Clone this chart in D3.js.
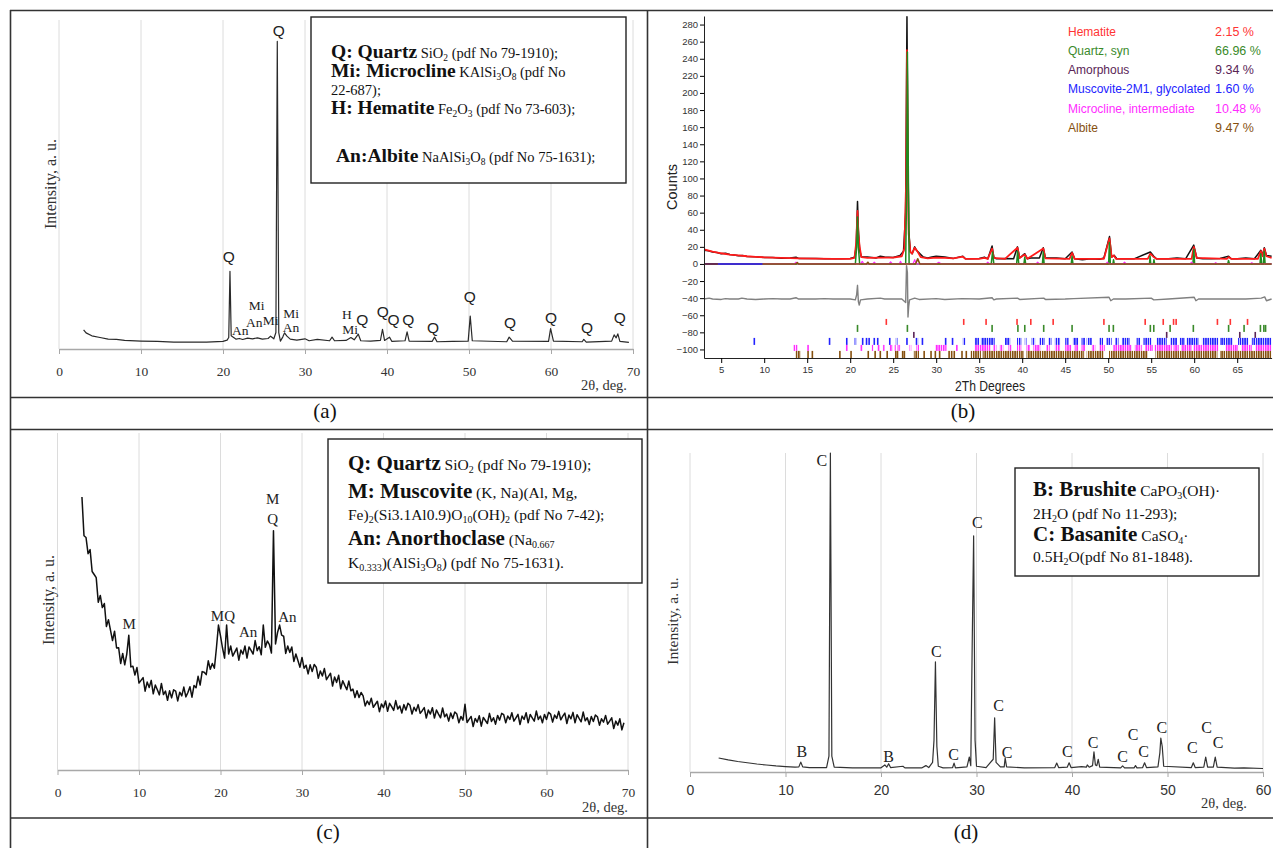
<!DOCTYPE html>
<html>
<head>
<meta charset="utf-8">
<script src="https://cdn.jsdelivr.net/npm/d3@7"></script>
<style>
  body { margin: 0; background: #fff; }
  svg { display: block; }
</style>
</head>
<body>
<script>
// ---------- panel (a): raw clay, intensity in arbitrary units (0-100) ----------
let aPattern = [
  [3, 5.8], [3.3, 4.9], [4, 4.0], [5, 3.5], [6, 3.0], [7, 2.9], [8, 2.6], [10, 2.4], [12, 2.3],
  [14, 2.1], [16, 2.1], [18, 2.1], [20, 2.3], [20.5, 2.7], [20.7, 3.5], [20.85, 23.6], [21.0, 4],
  [21.3, 3.5], [21.6, 3], [22, 3.2], [22.4, 2.9], [23, 3.3], [23.6, 3.1], [24.2, 3.4], [24.8, 3.0],
  [25.5, 3.2], [25.8, 3.9], [26.2, 3.1], [26.45, 5], [26.62, 93.5], [26.8, 5], [27.0, 2.4],
  [27.3, 3.7], [27.5, 4.9], [27.8, 3.9], [28.2, 3.0], [29, 2.7], [30, 3.1], [30.5, 2.5], [31.5, 2.9],
  [33, 2.5], [33.3, 3.6], [33.6, 2.5], [35, 2.6], [35.6, 3.5], [36.0, 2.8], [36.5, 4.5], [36.8, 2.5],
  [38, 2.4], [39.2, 2.6], [39.45, 6.0], [39.7, 2.6], [40.3, 3.6], [40.6, 2.3], [42.2, 2.5],
  [42.45, 5.2], [42.7, 2.4], [45.5, 2.3], [45.8, 3.6], [46.1, 2.2], [48, 2.3], [49.9, 2.4],
  [50.15, 10.0], [50.4, 2.5], [54.6, 2.2], [54.9, 3.6], [55.3, 2.4], [59.7, 2.3], [59.95, 6.2],
  [60.3, 2.4], [63.8, 2.2], [64.0, 2.9], [64.3, 2.1], [67.4, 2.4], [67.7, 4.3], [67.95, 3.4],
  [68.15, 4.6], [68.4, 2.3], [69.5, 2.0]
];
// [text, 2theta, intensity, font]
let aLabels = [
  ["Q", 26.8, 95.2, "sans"], ["Q", 20.7, 26.4, "sans"], ["An", 22.1, 4.3, "serif"],
  ["An", 23.8, 6.8, "serif"], ["Mi", 24.1, 11.8, "serif"], ["Mi", 25.8, 7.3, "serif"],
  ["Mi", 28.3, 9.3, "serif"], ["An", 28.3, 5.2, "serif"], ["H", 35.1, 9.0, "serif"],
  ["Mi", 35.5, 4.7, "serif"], ["Q", 37.0, 7.3, "sans"], ["Q", 39.5, 9.6, "sans"],
  ["Q", 40.8, 7.2, "sans"], ["Q", 42.6, 7.3, "sans"], ["Q", 45.6, 4.9, "sans"],
  ["Q", 50.1, 14.3, "sans"], ["Q", 55.0, 6.4, "sans"], ["Q", 60.0, 7.9, "sans"],
  ["Q", 64.4, 4.9, "sans"], ["Q", 68.4, 7.9, "sans"]
];
let aLegend = [
  "**Q: Quartz** SiO_2_ (pdf No 79-1910);",
  "**Mi: Microcline** KAlSi_3_O_8_ (pdf No",
  "22-687);",
  "**H: Hematite** Fe_2_O_3_ (pdf No 73-603);",
  "**An:Albite** NaAlSi_3_O_8_ (pdf No 75-1631);"
];

// ---------- panel (b): Rietveld refinement, counts ----------
let bObserved = [
  [3, 16], [3.5, 15.5], [4, 14], [4.5, 13.5], [5, 12], [5.5, 12.5], [6, 11], [6.5, 10.5], [7, 9.5],
  [7.5, 9.8], [8, 8.7], [9, 8.5], [10, 7.5], [11, 7.6], [12, 6.8], [13, 7], [13.7, 7.8], [14, 6.5],
  [15, 6.3], [16, 6.5], [17, 6], [18, 6.2], [19, 6], [20, 6.5], [20.5, 8], [20.7, 20], [20.85, 73],
  [20.95, 40], [21.1, 16], [21.3, 8], [22, 8], [23, 7], [23.5, 9], [24, 8], [25, 7.5], [25.8, 10],
  [26.2, 15], [26.45, 60], [26.6, 289], [26.7, 140], [26.8, 40], [27, 14], [27.2, 12], [27.5, 20],
  [27.7, 16], [28, 13], [28.5, 8], [29, 7], [29.5, 8], [30, 9], [31, 8], [32, 6.5], [33.1, 9],
  [33.4, 6], [34, 6], [35, 6.5], [35.6, 8], [36, 6], [36.5, 21], [36.7, 8], [37, 6], [38, 6.5],
  [39, 6], [39.45, 20], [39.7, 7], [40.3, 12], [40.6, 6], [41, 7], [42, 7], [42.45, 19], [42.7, 7],
  [44, 7], [45, 6], [45.8, 14], [46.1, 6], [47, 5], [48, 6], [49, 5.5], [49.5, 7], [50.15, 32],
  [50.4, 8], [50.7, 10], [51, 6], [53, 6], [54.9, 14], [55.3, 9], [55.6, 6], [57, 6], [58, 7],
  [59, 6], [59.95, 22], [60.3, 7], [61, 6], [62, 6], [63, 6.5], [64, 9], [64.3, 6], [65, 6],
  [66, 7], [67, 6], [67.75, 16], [67.95, 10], [68.15, 19], [68.4, 10], [69, 9]
];
let bCalculated = [
  [3, 17], [4, 14.5], [5, 12.5], [6, 11], [7, 10], [8, 9], [9, 8.3], [10, 7.8], [12, 7], [14, 6.5],
  [16, 6.2], [18, 6], [20, 6], [20.5, 7], [20.7, 25], [20.85, 62], [20.95, 35], [21.1, 20],
  [21.3, 8], [22, 7], [24, 7.5], [25, 7.5], [26, 9], [26.3, 18], [26.5, 95], [26.6, 250],
  [26.7, 125], [26.8, 35], [27, 14], [27.2, 12], [27.5, 19], [27.8, 15], [28.2, 8], [29, 6.5],
  [30, 7.5], [31, 7], [32, 6.5], [33.1, 8.5], [33.4, 6], [35, 6], [35.6, 7], [36, 6], [36.5, 18],
  [36.7, 7], [38, 6], [39.45, 19], [39.7, 7], [40.3, 11], [40.6, 6], [42.45, 18], [42.7, 6.5],
  [45.5, 6], [45.8, 13], [46.1, 6], [49.5, 6], [50.15, 30], [50.4, 8], [50.65, 10], [50.9, 6],
  [54.6, 6], [54.9, 12], [55.3, 8], [55.6, 6], [59.7, 6], [59.95, 20], [60.3, 7], [63.8, 6],
  [64.0, 8], [64.3, 6], [67.4, 6], [67.75, 15], [67.95, 9], [68.15, 18], [68.4, 9], [69, 7]
];
let bQuartz = [
  [3, 0], [20.6, 0], [20.75, 20], [20.85, 55], [20.95, 20], [21.1, 0], [26.45, 0], [26.55, 80],
  [26.65, 248], [26.75, 120], [26.85, 0], [36.4, 0], [36.55, 14], [36.7, 0], [39.35, 0],
  [39.47, 15], [39.6, 0], [40.2, 0], [40.3, 8], [40.4, 0], [42.35, 0], [42.45, 14], [42.55, 0],
  [45.7, 0], [45.8, 9], [45.9, 0], [50.05, 0], [50.14, 25], [50.25, 0], [50.55, 0], [50.62, 5],
  [50.7, 0], [54.8, 0], [54.87, 9], [54.95, 0], [55.25, 0], [55.32, 5], [55.4, 0], [59.85, 0],
  [59.96, 17], [60.05, 0], [63.9, 0], [63.99, 4], [64.1, 0], [67.65, 0], [67.74, 12], [67.85, 0],
  [68.05, 0], [68.14, 15], [68.25, 0], [69, 0]
];
let bMicrocline = [
  [3, 0], [13.5, 0], [13.7, 2], [13.9, 0], [21.2, 0], [21.4, 3], [21.6, 0], [22.6, 0], [22.8, 2],
  [23, 0], [24.5, 0], [24.7, 2.5], [24.9, 0], [25.7, 0], [25.85, 3], [26, 0], [27.3, 0], [27.5, 5],
  [27.7, 0], [30, 0], [30.3, 2], [30.6, 0], [35.8, 0], [36, 2], [36.2, 0], [41.6, 0], [41.8, 2],
  [42, 0], [49.7, 0], [49.9, 2], [50.1, 0], [51.7, 0], [51.9, 2], [52.1, 0], [59.5, 0], [59.7, 2],
  [59.9, 0], [62.3, 0], [62.5, 1.5], [62.7, 0], [66.5, 0], [66.7, 1.5], [66.9, 0], [69, 0]
];
let bAlbite = [
  [3, 0], [13.7, 0], [13.85, 1.5], [14, 0], [21.9, 0], [22.05, 2], [22.2, 0], [27.6, 0],
  [27.85, 6], [28.1, 0], [69, 0]
];
let bMuscovite = [[4.6, 0], [9.8, 0]];
let bAmorphous = [[3, 0], [4.6, 0]];
let bDifference = [
  [3, -41], [3.6, -40], [4, -41], [5, -41.5], [5.5, -40.5], [6, -41], [7, -41], [7.4, -40], [8, -41],
  [9, -41.5], [10, -41], [11, -40.5], [12, -41], [13, -41], [13.7, -39.5], [14, -41], [16, -41],
  [17, -40.5], [18, -41], [20, -41], [20.6, -42], [20.75, -36], [20.85, -25], [20.95, -44],
  [21.05, -48], [21.2, -42], [22, -41], [23.5, -40], [24, -41], [26, -41], [26.45, -45],
  [26.55, -2], [26.65, -10], [26.72, -62], [26.8, -50], [26.9, -42], [27.5, -40], [28, -41.5],
  [30, -40.5], [31, -41.5], [33, -40.5], [35, -41], [36.5, -39.5], [36.7, -42], [37, -41],
  [39.45, -40], [39.7, -41.5], [42.5, -40], [42.7, -41.5], [45, -41], [46, -40.5], [50.1, -39],
  [50.3, -43], [50.6, -41], [52, -41], [55, -40], [55.3, -42], [57, -41], [60, -39], [60.2, -43],
  [60.5, -41], [63, -41], [66, -41], [67.8, -40], [68.2, -38.5], [68.4, -43], [69, -41]
];
// reflection markers: single positions or dense [from, to] groups
let hematiteTicks = [24.2, 33.2, 35.8, 39.4, 41.0, 43.6, 49.5, 54.3, 56.4, 57.6, 57.9, 62.7, 64.2, 66.2];
let quartzTicks = [20.85, 26.65, 36.5, 39.5, 40.3, 42.5, 45.8, 50.1, 50.6, 54.9, 55.3, 57.2, 59.9,
  64.0, 65.8, 67.7, 68.1, 68.3];
let amorphousTicks = [27.4, 56.8, 65.3, 67.1];
let muscoviteTicks = [8.85, 17.6, 19.6, [20.5, 20.7], 21.45, 21.9, 22.2, 22.8, 23.2, 24.6, [25.3, 25.5],
  26.6, [27.6, 27.9], 28.4, 31.1, 31.9, [33.1, 33.4], [34.5, 35.0], [35.2, 36.8], [38.0, 38.6],
  [39.4, 39.9], [40.3, 40.5], [41.1, 41.5], [42.0, 42.6], [43.0, 43.4], [43.8, 44.4], [45.0, 45.4],
  [45.9, 46.5], [46.9, 47.3], [47.5, 48.1], [49.0, 49.4], [49.8, 50.4], [50.8, 51.2], [51.6, 52.5],
  [53.3, 53.7], [54.1, 55.0], [55.6, 56.8], [57.2, 58.0], [58.3, 58.9], [59.1, 60.5], [60.9, 62.8],
  [63.0, 64.5], [65.1, 66.3], [66.7, 69.0]];
let microclineTicks = [[13.4, 13.9], 15.1, 19.6, 21.3, [22.5, 22.7], 23.3, [23.8, 24.0], [24.6, 24.9],
  [25.1, 25.3], [25.5, 25.8], [26.9, 27.1], [27.7, 28.0], [29.9, 31.2], 32.4, [34.5, 36.3],
  [36.6, 37.0], [37.4, 37.8], [38.4, 38.8], [39.4, 39.9], [40.5, 40.9], [41.3, 42.1], [42.8, 43.2],
  [43.8, 44.4], [45.0, 45.7], [46.1, 46.5], [46.9, 47.3], [48.1, 48.5], [49.0, 49.6], [50.6, 52.7],
  [53.1, 53.9], [54.3, 55.2], [55.4, 57.4], [57.6, 58.2], [58.5, 59.7], [59.9, 62.8], [63.6, 65.1],
  [65.5, 66.7], [67.1, 69.0]];
let albiteTicks = [[13.6, 14.2], 15.1, 15.6, 18.8, 20.1, 22.1, 22.9, 23.5, 24.3, 25.3, 25.5, 26.1,
  26.3, [27.4, 28.0], 28.6, 29.4, 29.9, 30.4, 31.5, 31.8, 32.1, 33.0, 33.5, [34.0, 35.2], [35.4, 40.2],
  [40.5, 47.2], [47.5, 49.5], [50.1, 54.6], [55.5, 62.7], [63.0, 69.0]];
let phaseNames = ["Hematite", "Quartz, syn", "Amorphous", "Muscovite-2M1, glycolated",
  "Microcline, intermediate", "Albite"];
let phaseShares = ["2.15 %", "66.96 %", "9.34 %", "1.60 %", "10.48 %", "9.47 %"];
let phaseColors = ["#ff3434", "#3a8a2a", "#5a2456", "#2222ff", "#ff2cff", "#86500f"];
let phaseTicks = [hematiteTicks, quartzTicks, amorphousTicks, muscoviteTicks, microclineTicks, albiteTicks];
let yTicksB = d3.range(-100, 281, 20);
let xTicksB = d3.range(5, 66, 5);

// ---------- panel (c): noisy sample, 0.25 deg step from 3 deg ----------
let cStart = 3, cStep = 0.25;
let cCounts = [
  81, 69.5, 69, 64.2, 65.4, 58.9, 58, 57.1, 49.8, 51.8, 48.2, 49.4, 42.6, 44.6, 41.5, 38.4,
  41.2, 36.2, 36.3, 31.6, 34.6, 31.2, 34.4, 40, 30.6, 30.8, 28.2, 30.4, 25.8, 26.6, 27.4, 23.4,
  26.1, 24.5, 26.6, 22.6, 25.2, 23.8, 22.3, 25.7, 22.4, 23.4, 20.7, 23.5, 21.4, 23.8, 23.4, 20.5,
  23.1, 22.0, 24.6, 21.7, 23, 24.7, 21.6, 25.1, 24.4, 27.8, 25.2, 29.2, 29, 28.3, 32.4, 29.9,
  31.6, 30.2, 36.2, 43, 39.8, 36.2, 33.2, 43, 34.4, 36.8, 33.8, 35, 36.2, 32.6, 35.6, 34.4,
  36.8, 33.2, 36.5, 35.5, 34.4, 38.4, 35.4, 36.6, 34.2, 43, 36.4, 38.3, 37.2, 34.7, 71, 37.4,
  40.8, 43, 40, 39.7, 34.6, 36.8, 34.9, 36.5, 32.2, 34.4, 32.5, 30.5, 33.4, 30.2, 31.1, 28.5,
  31.2, 29.2, 31.3, 30.5, 27.2, 29.4, 27.9, 30.1, 26.8, 27.8, 28.7, 24.9, 27.6, 26, 28.1, 24.1,
  26.5, 25.1, 23.8, 26.4, 23.5, 24, 21.5, 23.5, 21.5, 23, 22, 19, 20.5, 19.4, 21.3, 18.6,
  19.5, 20.4, 17.3, 19.6, 18.5, 20.5, 17.4, 19.8, 18.8, 17.7, 20.6, 18.1, 19, 16.9, 19.4, 17.8,
  19.8, 19.2, 16.6, 18.6, 17.5, 19.4, 16.8, 17.6, 18.5, 15.4, 17.8, 16.6, 18.5, 15.4, 17.8, 16.6,
  15.5, 18.4, 15.8, 16.6, 14.5, 16.9, 15.3, 17.2, 16.6, 14, 15.9, 14.8, 19.5, 14.1, 15, 15.9,
  12.9, 15.3, 14.2, 16.1, 13, 15.6, 14.7, 13.8, 16.8, 14.4, 15.5, 13.6, 16.2, 14.8, 16.8, 16.4,
  14, 16, 15, 17, 14.5, 15.5, 16.5, 13.5, 16, 15, 17, 14, 16.5, 15.5, 14.5, 17.5,
  15, 16, 14, 16.5, 15, 17.1, 16.6, 14.2, 16.3, 15.3, 17.4, 14.9, 16, 16.9, 13.8, 16.3,
  15.2, 17.1, 14, 16.4, 15.3, 14.3, 17.2, 14.6, 15.5, 13.5, 15.9, 14.4, 16.3, 15.8, 13.3, 15.2,
  14.2, 16.2, 13.6, 14.5, 15.5, 12.3, 14.5, 13.3, 15.2, 11.9, 14
];
let cLabels = [
  ["M", 8.8, 41.8], ["MQ", 20.3, 44.2], ["An", 23.4, 39.5], ["M", 26.4, 78.9],
  ["Q", 26.4, 73.0], ["An", 28.2, 43.9]
];
let cLegend = [
  "**Q: Quartz** SiO_2_ (pdf No 79-1910);",
  "**M: Muscovite** (K, Na)(Al, Mg,",
  "Fe)_2_(Si3.1Al0.9)O_10_(OH)_2_ (pdf No 7-42);",
  "**An: Anorthoclase** (Na_0.667_",
  "K_0.333_)(AlSi_3_O_8_) (pdf No 75-1631)."
];

// ---------- panel (d): gypsum-based sample ----------
let dPattern = [
  [3, 4.4], [4, 3.8], [5, 3.3], [6, 2.9], [7, 2.5], [8, 2.2], [9, 1.9], [10, 1.7], [11, 1.5],
  [11.4, 1.6], [11.6, 3.1], [11.8, 1.6], [12.5, 1.4], [14.3, 1.4], [14.55, 5], [14.7, 100],
  [14.85, 5], [15.1, 1.5], [17, 1.3], [20, 1.3], [20.4, 2.2], [20.6, 1.5], [20.8, 2.6], [21, 1.4],
  [22.3, 1.8], [22.5, 1.3], [24.3, 1.3], [24.7, 2], [25, 1.4], [25.4, 3], [25.55, 10], [25.7, 34.5],
  [25.85, 8], [26, 1.8], [26.5, 1.3], [27.5, 1.4], [27.65, 2.8], [27.8, 1.3], [29, 1.6],
  [29.25, 4.7], [29.4, 2], [29.55, 40], [29.7, 74], [29.85, 10], [30, 1.8], [31, 1.4], [31.75, 4],
  [31.9, 17], [32.05, 3], [32.5, 1.6], [32.9, 1.6], [33.0, 4.4], [33.15, 1.6], [35, 1.3],
  [38.2, 1.4], [38.4, 2.8], [38.6, 1.4], [39.5, 1.5], [39.7, 2.9], [39.9, 1.4], [41, 1.7],
  [41.5, 1.5], [41.6, 2.2], [41.8, 1.5], [42.15, 2], [42.3, 6.3], [42.45, 2.2], [42.6, 2],
  [42.75, 4], [42.9, 1.5], [45.1, 1.3], [45.3, 1.9], [45.5, 1.3], [46.5, 1.3], [46.65, 2],
  [46.8, 1.3], [47.4, 1.4], [47.6, 2.9], [47.8, 1.4], [49.0, 1.6], [49.2, 6], [49.3, 10.6],
  [49.45, 8], [49.6, 1.8], [52.5, 1.4], [52.7, 2.9], [52.9, 1.4], [53.8, 1.5], [54.0, 4.7],
  [54.2, 1.5], [54.8, 1.5], [55.0, 4.7], [55.2, 1.5], [57, 1.2], [58, 1.3], [60, 1.1]
];
let dLabels = [
  ["B", 11.7, 4.7], ["C", 13.8, 95.9], ["B", 20.8, 3.1], ["C", 25.8, 36.1], ["C", 27.6, 3.8],
  ["C", 30.1, 76.5], ["C", 32.3, 19.1], ["C", 33.2, 4.4], ["C", 39.5, 4.7], ["C", 42.2, 7.5],
  ["C", 45.3, 3.1], ["C", 46.4, 10.0], ["C", 47.5, 4.7], ["C", 49.4, 12.2], ["C", 52.6, 6.0],
  ["C", 54.1, 12.2], ["C", 55.3, 7.5]
];
let dLegend = [
  "**B: Brushite** CaPO_3_(OH)·",
  "2H_2_O (pdf No 11-293);",
  "**C: Basanite** CaSO_4_·",
  "0.5H_2_O(pdf No 81-1848)."
];

const serif = "'Liberation Serif','Times New Roman',serif";
const sans = "'Liberation Sans',Arial,sans-serif";

const svg = d3.select("body").append("svg")
  .attr("width", 1273).attr("height", 848);
svg.append("rect").attr("width", 1273).attr("height", 848).attr("fill", "#fff");

// text with **bold** parts and _subscripts_
function rich(g, x, y, str, o) {
  const t = g.append("text").attr("x", x).attr("y", y)
    .attr("font-family", serif).attr("fill", "#111");
  let bold = false, sub = false, cur = 0;
  str.split(/(\*\*|_)/).forEach(tok => {
    if (tok === "**") { bold = !bold; return; }
    if (tok === "_") { sub = !sub; return; }
    if (!tok) return;
    const target = sub ? o.shift : 0;
    t.append("tspan").text(tok)
      .attr("dy", target - cur)
      .attr("font-weight", bold ? "bold" : "normal")
      .attr("font-size", bold ? o.big : sub ? o.sub : o.small);
    cur = target;
  });
}

function xrdPanel(p) {
  const g = svg.append("g");
  const x = d3.scaleLinear().domain([0, p.xMax]).range([p.left, p.right]);
  const y = d3.scaleLinear().domain([0, 100]).range([p.bottom, p.top]);
  const ticks = d3.range(0, p.xMax + 1, 10);

  g.selectAll(".grid").data(ticks).enter().append("line")
    .attr("x1", d => x(d)).attr("x2", d => x(d))
    .attr("y1", p.top).attr("y2", p.bottom)
    .attr("stroke", "#dcdcdc").attr("stroke-width", 1);

  const ax = g.append("g").attr("transform", `translate(0,${p.bottom})`)
    .call(d3.axisBottom(x).tickValues(ticks).tickSize(5).tickSizeOuter(0)
      .tickPadding(p.pad).tickFormat(d3.format("d")));
  ax.select(".domain").attr("stroke", "#a8a8a8").attr("stroke-width", 1.4);
  ax.selectAll(".tick line").attr("stroke", "#a8a8a8");
  ax.selectAll(".tick text").attr("font-family", p.tickFont).attr("font-size", p.tickSize)
    .attr("fill", "#333");

  g.append("path").datum(p.data)
    .attr("d", d3.line().x(d => x(d[0])).y(d => y(d[1])))
    .attr("fill", "none").attr("stroke", p.stroke).attr("stroke-width", p.width)
    .attr("stroke-linejoin", "round");

  g.selectAll(".lab").data(p.labels).enter().append("text")
    .attr("x", d => x(d[1])).attr("y", d => y(d[2]))
    .attr("text-anchor", "middle")
    .attr("font-family", d => d[3] === "sans" ? sans : serif)
    .attr("font-size", d => d[3] === "sans" ? 15.5 : p.labelSize)
    .attr("fill", "#222")
    .text(d => d[0]);

  g.append("rect").attr("x", p.box[0]).attr("y", p.box[1])
    .attr("width", p.box[2] - p.box[0]).attr("height", p.box[3] - p.box[1])
    .attr("fill", "#fff").attr("stroke", "#222").attr("stroke-width", 1.4);
  p.legend.forEach((s, i) => rich(g, p.legendX[i], p.legendY[i], s, p.font));

  g.append("text").attr("transform", `translate(${p.yTitle[0]},${p.yTitle[1]}) rotate(-90)`)
    .attr("text-anchor", "middle").attr("dy", "0.35em")
    .attr("font-family", serif).attr("font-size", p.yTitleSize).attr("fill", "#333")
    .text("Intensity, a. u.");
  g.append("text").attr("x", p.xTitle[0]).attr("y", p.xTitle[1])
    .attr("text-anchor", "end").attr("font-family", serif).attr("font-size", 14.5)
    .attr("fill", "#333").text("2θ, deg.");
}

// (a)
xrdPanel({
  xMax: 70, left: 59, right: 633, top: 20, bottom: 349, pad: 12,
  tickFont: serif, tickSize: 13.5, data: aPattern, stroke: "#2a2a2a", width: 1.2,
  labels: aLabels, labelSize: 13.5,
  box: [311, 17, 626, 183],
  legend: aLegend, legendX: [331, 331, 331, 331, 336], legendY: [58, 77, 95, 114, 162],
  font: { big: 19.5, small: 14.5, sub: 9.5, shift: 2.5 },
  yTitle: [50, 184], yTitleSize: 16, xTitle: [627, 390]
});

// (c)
xrdPanel({
  xMax: 70, left: 57.5, right: 628, top: 433, bottom: 770, pad: 12,
  tickFont: serif, tickSize: 13.5,
  data: cCounts.map((v, i) => [cStart + i * cStep, v]), stroke: "#111", width: 1.5,
  labels: cLabels.map(d => [d[0], d[1], d[2], "serif"]), labelSize: 15,
  box: [328, 439, 642, 583],
  legend: cLegend, legendX: [348, 348, 348, 348, 348], legendY: [470, 498, 520, 545, 568],
  font: { big: 21, small: 15.5, sub: 10, shift: 3 },
  yTitle: [48, 600], yTitleSize: 16, xTitle: [628, 812]
});

// (d)
xrdPanel({
  xMax: 60, left: 690, right: 1263, top: 453, bottom: 772, pad: 8,
  tickFont: sans, tickSize: 14, data: dPattern, stroke: "#333", width: 1.2,
  labels: dLabels.map(d => [d[0], d[1], d[2], "serif"]), labelSize: 16,
  box: [1015, 468, 1259, 576],
  legend: dLegend, legendX: [1033, 1033, 1033, 1033], legendY: [496, 519, 541, 562],
  font: { big: 21, small: 15.5, sub: 10, shift: 3 },
  yTitle: [673, 621], yTitleSize: 15.5, xTitle: [1247, 808]
});

// (b) Rietveld plot
const gb = svg.append("g");
const bx = d3.scaleLinear().domain([3, 69]).range([704, 1271.6]);
const by = d3.scaleLinear().domain([-110, 290]).range([358, 16]);
const lineB = d3.line().x(d => bx(d[0])).y(d => by(d[1]));
const tickRows = [[-64.3, -71.3], [-71.3, -79.5], [-79.5, -86.5], [-86.5, -94.7], [-94.7, -101.7], [-101.7, -110]];

const defs = svg.append("defs");
phaseColors.forEach((c, i) => {
  const pat = defs.append("pattern").attr("id", "stripe" + i)
    .attr("patternUnits", "userSpaceOnUse").attr("width", 2.3).attr("height", 20);
  pat.append("rect").attr("width", 1.6).attr("height", 20).attr("fill", c);
});

phaseTicks.forEach((ticks, i) => {
  const row = tickRows[i];
  gb.append("g").selectAll("rect").data(ticks).enter().append("rect")
    .attr("x", d => Array.isArray(d) ? bx(d[0]) : bx(d) - 0.8)
    .attr("width", d => Array.isArray(d) ? bx(d[1]) - bx(d[0]) : 1.6)
    .attr("y", by(row[0])).attr("height", by(row[1]) - by(row[0]))
    .attr("fill", d => Array.isArray(d) ? `url(#stripe${i})` : phaseColors[i]);
});

function curve(data, color, w) {
  gb.append("path").datum(data).attr("d", lineB)
    .attr("fill", "none").attr("stroke", color).attr("stroke-width", w)
    .attr("stroke-linejoin", "round");
}
curve(bDifference, "#808080", 1.4);
curve(bObserved, "#111", 1.5);
curve(bCalculated, "#ff1a1a", 1.8);
curve(bQuartz, "#1f8a1f", 1.5);
curve(bMicrocline, phaseColors[4], 1.2);
curve(bAlbite, phaseColors[5], 1.6);
curve(bMuscovite, phaseColors[3], 1.6);
curve(bAmorphous, phaseColors[2], 1.6);

const axBx = gb.append("g").attr("transform", "translate(0,358)");
axBx.call(d3.axisBottom(bx).tickValues(d3.range(3, 70, 1)).tickSize(3).tickFormat("").tickSizeOuter(0));
axBx.call(d3.axisBottom(bx).tickValues(xTicksB).tickSize(5).tickPadding(3).tickSizeOuter(0));
axBx.selectAll("text").attr("font-family", sans).attr("font-size", 9.5).attr("fill", "#333");

const axBy = gb.append("g").attr("transform", "translate(704,0)");
axBy.call(d3.axisLeft(by).tickValues(d3.range(-110, 291, 10)).tickSize(2).tickFormat("").tickSizeOuter(0));
axBy.call(d3.axisLeft(by).tickValues(yTicksB).tickSize(4).tickPadding(2).tickSizeOuter(0));
axBy.selectAll("text").attr("font-family", sans).attr("font-size", 9.5).attr("fill", "#333");
gb.selectAll(".domain").attr("stroke", "#222");

gb.append("text").attr("transform", "translate(672,187) rotate(-90)")
  .attr("text-anchor", "middle").attr("dy", "0.35em")
  .attr("font-family", sans).attr("font-size", 14.5).attr("fill", "#222").text("Counts");
gb.append("text").attr("x", 990).attr("y", 391).attr("text-anchor", "middle")
  .attr("font-family", sans).attr("font-size", 14).attr("textLength", 70)
  .attr("lengthAdjust", "spacingAndGlyphs").attr("fill", "#222").text("2Th Degrees");

const leg = gb.append("g").selectAll("g").data(phaseNames).enter().append("g");
leg.append("text").attr("x", 1068).attr("y", (d, i) => 35.5 + i * 19.3)
  .attr("font-family", sans).attr("font-size", 12)
  .attr("fill", (d, i) => phaseColors[i]).text(d => d);
leg.append("text").attr("x", 1215).attr("y", (d, i) => 35.5 + i * 19.3)
  .attr("font-family", sans).attr("font-size", 12.5)
  .attr("fill", (d, i) => phaseColors[i]).text((d, i) => phaseShares[i]);

// captions
[["(a)", 325, 418], ["(b)", 963, 418], ["(c)", 328, 839], ["(d)", 966, 839]].forEach(c => {
  svg.append("text").attr("x", c[1]).attr("y", c[2]).attr("text-anchor", "middle")
    .attr("font-family", serif).attr("font-size", 21).attr("fill", "#111").text(c[0]);
});

// table frame
const frame = [[10, 10.5, 1273, 10.5], [10, 397.5, 1273, 397.5], [10, 429.5, 1273, 429.5],
  [10, 818, 1273, 818], [10.5, 10, 10.5, 848], [647.5, 10, 647.5, 848]];
svg.append("g").selectAll("line").data(frame).enter().append("line")
  .attr("x1", d => d[0]).attr("y1", d => d[1]).attr("x2", d => d[2]).attr("y2", d => d[3])
  .attr("stroke", "#333").attr("stroke-width", 1.6);
</script>
</body>
</html>
